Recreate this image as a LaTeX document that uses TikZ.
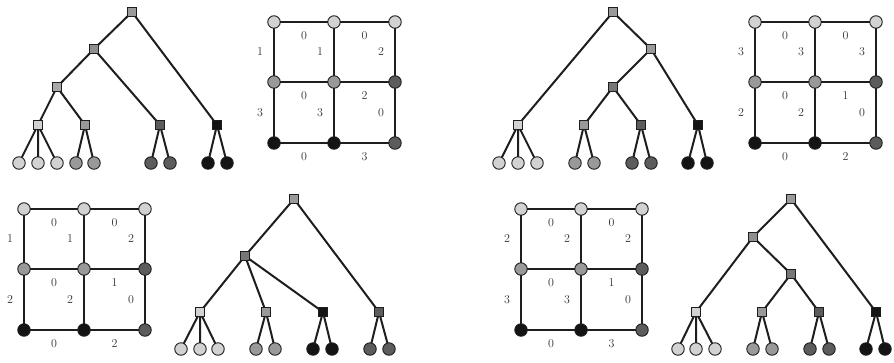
\documentclass[tikz,border=0pt]{standalone}
\usepackage{tikz}

\definecolor{cL}{HTML}{D2D2D2}
\definecolor{cM}{HTML}{999999}
\definecolor{cD}{HTML}{5C5C5C}
\definecolor{cB}{HTML}{141414}
\definecolor{cI}{HTML}{9A9A9A}
\definecolor{cJ}{HTML}{8E8E8E}
\definecolor{cK}{HTML}{A8A8A8}
\definecolor{cN}{HTML}{777777}
\definecolor{edgecol}{HTML}{1E1E1E}
\definecolor{labcol}{HTML}{333333}

\tikzset{
  sq/.style={draw=edgecol, line width=0.9pt, fill=#1, minimum size=8.5pt, inner sep=0pt, outer sep=0pt},
  lf/.style={circle, draw=edgecol, line width=0.9pt, fill=#1, minimum size=12.5pt, inner sep=0pt, outer sep=0pt},
  ln/.style={draw=edgecol, line width=2pt},
  lab/.style={text=labcol, font=\fontsize{12}{12}\selectfont, inner sep=0pt},
  hl/.style={lab, yshift=-14pt},
  vl/.style={lab, xshift=-14pt},
}

% nine lattice vertices: prefix, left x, top y
\newcommand{\gridnodes}[3]{%
  \begin{scope}[shift={(#2,#3)}]
    \node[lf=cL] (#1-11) at (0,0) {};
    \node[lf=cL] (#1-12) at (60,0) {};
    \node[lf=cL] (#1-13) at (121,0) {};
    \node[lf=cM] (#1-21) at (0,60) {};
    \node[lf=cM] (#1-22) at (60,60) {};
    \node[lf=cD] (#1-23) at (121,60) {};
    \node[lf=cB] (#1-31) at (0,121) {};
    \node[lf=cB] (#1-32) at (60,121) {};
    \node[lf=cD] (#1-33) at (121,121) {};
  \end{scope}}
% top row and first column links with their weights
\newcommand{\gridtop}[6]{%
  \path[ln] (#1-11) -- node[hl]{#2} (#1-12);
  \path[ln] (#1-12) -- node[hl]{#3} (#1-13);
  \path[ln] (#1-11) -- node[vl]{#4} (#1-21);
  \path[ln] (#1-12) -- node[vl]{#5} (#1-22);
  \path[ln] (#1-13) -- node[vl]{#6} (#1-23);}
% middle and bottom links with their weights
\newcommand{\gridbottom}[8]{%
  \path[ln] (#1-21) -- node[hl]{#2} (#1-22);
  \path[ln] (#1-22) -- node[hl]{#3} (#1-23);
  \path[ln] (#1-21) -- node[vl]{#4} (#1-31);
  \path[ln] (#1-22) -- node[vl]{#5} (#1-32);
  \path[ln] (#1-23) -- node[vl]{#6} (#1-33);
  \path[ln] (#1-31) -- node[hl]{#7} (#1-32);
  \path[ln] (#1-32) -- node[hl]{#8} (#1-33);}

\begin{document}
\begin{tikzpicture}[x=1pt,y=-1pt]
\useasboundingbox (0,0) rectangle (894,362);

% ---------- lattices ----------
\gridnodes{ga}{274}{22}
\gridtop{ga}{0}{0}{1}{1}{2}
\gridbottom{ga}{0}{2}{3}{3}{0}{0}{3}

\gridnodes{gb}{755}{22}
\gridtop{gb}{0}{0}{3}{3}{3}
\gridbottom{gb}{0}{1}{2}{2}{0}{0}{2}

\gridnodes{gc}{24}{209}
\gridtop{gc}{0}{0}{1}{1}{2}
\gridbottom{gc}{0}{1}{2}{2}{0}{0}{2}

\gridnodes{gd}{521}{209}
\gridtop{gd}{0}{0}{2}{2}{2}
\gridbottom{gd}{0}{1}{3}{3}{0}{0}{3}

% ---------- tree A ----------
\node[sq=cI] (ar) at (132,12) {};
\node[sq=cJ] (aa) at (94,49) {};
\node[sq=cK] (ab) at (57,87) {};
\node[sq=cL] (aq1) at (38,125) {};
\node[sq=cM] (aq2) at (85,125) {};
\node[sq=cD] (aq3) at (160,125) {};
\node[sq=cB] (aq4) at (217,125) {};
\node[lf=cL] (al1) at (19,163) {};
\node[lf=cL] (al2) at (38,163) {};
\node[lf=cL] (al3) at (57,163) {};
\node[lf=cM] (al4) at (76,163) {};
\node[lf=cM] (al5) at (94,163) {};
\node[lf=cD] (al6) at (151,163) {};
\node[lf=cD] (al7) at (170,163) {};
\node[lf=cB] (al8) at (208,163) {};
\node[lf=cB] (al9) at (227,163) {};
\path[ln] (ar) -- (aa) (ar) -- (aq4) (aa) -- (ab) (aa) -- (aq3)
  (ab) -- (aq1) (ab) -- (aq2)
  (aq1) -- (al1) (aq1) -- (al2) (aq1) -- (al3)
  (aq2) -- (al4) (aq2) -- (al5)
  (aq3) -- (al6) (aq3) -- (al7)
  (aq4) -- (al8) (aq4) -- (al9);

% ---------- tree B ----------
\node[sq=cI] (br) at (613,12) {};
\node[sq=cI] (ba) at (651,49) {};
\node[sq=cN] (bb) at (613,87) {};
\node[sq=cL] (bq1) at (518,125) {};
\node[sq=cM] (bq2) at (584,125) {};
\node[sq=cD] (bq3) at (641,125) {};
\node[sq=cB] (bq4) at (698,125) {};
\node[lf=cL] (bl1) at (499,163) {};
\node[lf=cL] (bl2) at (518,163) {};
\node[lf=cL] (bl3) at (537,163) {};
\node[lf=cM] (bl4) at (575,163) {};
\node[lf=cM] (bl5) at (594,163) {};
\node[lf=cD] (bl6) at (632,163) {};
\node[lf=cD] (bl7) at (651,163) {};
\node[lf=cB] (bl8) at (688,163) {};
\node[lf=cB] (bl9) at (707,163) {};
\path[ln] (br) -- (bq1) (br) -- (ba) (ba) -- (bb) (ba) -- (bq4)
  (bb) -- (bq2) (bb) -- (bq3)
  (bq1) -- (bl1) (bq1) -- (bl2) (bq1) -- (bl3)
  (bq2) -- (bl4) (bq2) -- (bl5)
  (bq3) -- (bl6) (bq3) -- (bl7)
  (bq4) -- (bl8) (bq4) -- (bl9);

% ---------- tree C ----------
\node[sq=cI] (cr) at (294,199) {};
\node[sq=cN] (ca) at (245,256) {};
\node[sq=cL] (cq1) at (200,312) {};
\node[sq=cM] (cq2) at (266,312) {};
\node[sq=cB] (cq3) at (323,312) {};
\node[sq=cD] (cq4) at (379,312) {};
\node[lf=cL] (cl1) at (181,349) {};
\node[lf=cL] (cl2) at (200,349) {};
\node[lf=cL] (cl3) at (218,349) {};
\node[lf=cM] (cl4) at (256,349) {};
\node[lf=cM] (cl5) at (275,349) {};
\node[lf=cB] (cl6) at (313,349) {};
\node[lf=cB] (cl7) at (332,349) {};
\node[lf=cD] (cl8) at (370,349) {};
\node[lf=cD] (cl9) at (389,349) {};
\path[ln] (cr) -- (ca) (cr) -- (cq4)
  (ca) -- (cq1) (ca) -- (cq2) (ca) -- (cq3)
  (cq1) -- (cl1) (cq1) -- (cl2) (cq1) -- (cl3)
  (cq2) -- (cl4) (cq2) -- (cl5)
  (cq3) -- (cl6) (cq3) -- (cl7)
  (cq4) -- (cl8) (cq4) -- (cl9);

% ---------- tree D ----------
\node[sq=cI] (dr) at (791,199) {};
\node[sq=cJ] (da) at (753,237) {};
\node[sq=cN] (db) at (791,274) {};
\node[sq=cL] (dq1) at (696,312) {};
\node[sq=cM] (dq2) at (762,312) {};
\node[sq=cD] (dq3) at (819,312) {};
\node[sq=cB] (dq4) at (876,312) {};
\node[lf=cL] (dl1) at (678,349) {};
\node[lf=cL] (dl2) at (696,349) {};
\node[lf=cL] (dl3) at (715,349) {};
\node[lf=cM] (dl4) at (753,349) {};
\node[lf=cM] (dl5) at (772,349) {};
\node[lf=cD] (dl6) at (810,349) {};
\node[lf=cD] (dl7) at (829,349) {};
\node[lf=cB] (dl8) at (866,349) {};
\node[lf=cB] (dl9) at (885,349) {};
\path[ln] (dr) -- (da) (dr) -- (dq4) (da) -- (dq1) (da) -- (db)
  (db) -- (dq2) (db) -- (dq3)
  (dq1) -- (dl1) (dq1) -- (dl2) (dq1) -- (dl3)
  (dq2) -- (dl4) (dq2) -- (dl5)
  (dq3) -- (dl6) (dq3) -- (dl7)
  (dq4) -- (dl8) (dq4) -- (dl9);
\end{tikzpicture}
\end{document}
